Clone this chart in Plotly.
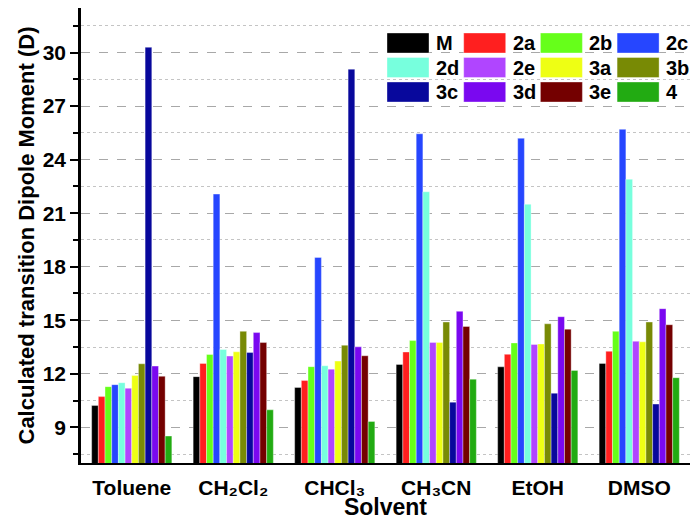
import plotly.graph_objects as go

solvents = ["Toluene", "CH₂Cl₂", "CHCl₃", "CH₃CN", "EtOH", "DMSO"]
series = ["M", "2a", "2b", "2c", "2d", "2e", "3a", "3b", "3c", "3d", "3e", "4"]
colors = ["#000000", "#ff1f1f", "#66ff1a", "#2646ff", "#77ffdd", "#b045ff",
          "#eeff14", "#788a05", "#08089c", "#7a08f0", "#740000", "#22ab12"]

# values per series, in solvent order
M   = [10.22, 11.84, 11.23, 12.52, 12.39, 12.58]
s2a = [10.72, 12.58, 11.62, 13.22, 13.09, 13.26]
s2b = [11.28, 13.08, 12.40, 13.86, 13.73, 14.38]
s2c = [11.39, 22.07, 18.52, 25.45, 25.20, 25.70]
s2d = [11.50, 13.36, 12.45, 22.20, 21.50, 22.90]
s2e = [11.19, 12.99, 12.26, 13.75, 13.64, 13.82]
s3a = [11.90, 13.23, 12.71, 13.75, 13.67, 13.79]
s3b = [12.56, 14.38, 13.60, 14.90, 14.80, 14.90]
s3c = [30.30, 13.19, 29.07, 10.41, 10.91, 10.30]
s3d = [12.43, 14.31, 13.51, 15.50, 15.20, 15.65]
s3e = [11.86, 13.75, 13.01, 14.65, 14.50, 14.75]
s4  = [8.51, 9.98, 9.33, 11.70, 12.19, 11.78]
values = [M, s2a, s2b, s2c, s2d, s2e, s3a, s3b, s3c, s3d, s3e, s4]

FONT = "Liberation Sans, Arial, DejaVu Sans, sans-serif"
W, H = 691, 520
ML, MR, MT, MB = 81, 1, 8, 57

fig = go.Figure()
for name, col, vals in zip(series, colors, values):
    fig.add_trace(go.Bar(x=solvents, y=vals, name=name, marker_color=col,
                         marker_line=dict(color="rgba(255,255,255,0.6)", width=0.6),
                         showlegend=False))

# manual legend (3 rows x 4 columns, large swatches)
pw, ph = W - ML - MR, H - MT - MB
shapes, annos = [], []
for i, (name, col) in enumerate(zip(series, colors)):
    r, c = divmod(i, 4)
    x0 = 387 + c * 76.7
    y0 = 33 + r * 24.5
    shapes.append(dict(type="rect", xref="paper", yref="paper",
                       x0=(x0 - ML) / pw, x1=(x0 + 42 - ML) / pw,
                       y0=(H - MB - y0) / ph, y1=(H - MB - y0 - 20) / ph,
                       fillcolor=col, line=dict(width=0.6, color="rgba(255,255,255,0.6)")))
    annos.append(dict(xref="paper", yref="paper", x=(x0 + 47 - ML) / pw,
                      y=(H - MB - y0 - 10) / ph, text=name, showarrow=False,
                      xanchor="left", yanchor="middle",
                      font=dict(family=FONT, size=20, color="black", weight="bold")))

fig.update_layout(
    width=W, height=H, margin=dict(l=ML, r=MR, t=MT, b=MB),
    paper_bgcolor="white", plot_bgcolor="white",
    barmode="group", bargap=0.21, bargroupgap=0,
    shapes=shapes, annotations=annos,
    font=dict(family=FONT, color="black"),
)
fig.update_xaxes(showline=True, linecolor="black", linewidth=2, ticks="",
                 ticklabelstandoff=5, automargin=False,
                 tickfont=dict(family=FONT, size=21, weight="bold"),
                 title=dict(text="Solvent", standoff=0,
                            font=dict(family=FONT, size=23, weight="bold")),
                 showgrid=False)
fig.update_yaxes(range=[7, 32.5], tickmode="linear", tick0=0, dtick=3,
                 showline=True, linecolor="black", linewidth=2.5,
                 ticks="outside", ticklen=8, tickwidth=2, tickcolor="black",
                 tickfont=dict(family=FONT, size=21, weight="bold"),
                 title=dict(text="Calculated transition Dipole Moment (D)", standoff=2,
                            font=dict(family=FONT, size=22, weight="bold")),
                 showgrid=True, gridcolor="#a8a8a8", griddash="dash", gridwidth=1,
                 zeroline=False,
                 minor=dict(dtick=1.5, ticks="outside", ticklen=5, tickwidth=2,
                            tickcolor="black", showgrid=True, gridcolor="#c4c4c4",
                            griddash="dot", gridwidth=1))

fig.write_html("out.html", config={"displayModeBar": False},
               post_script="document.body.style.margin='0';")
